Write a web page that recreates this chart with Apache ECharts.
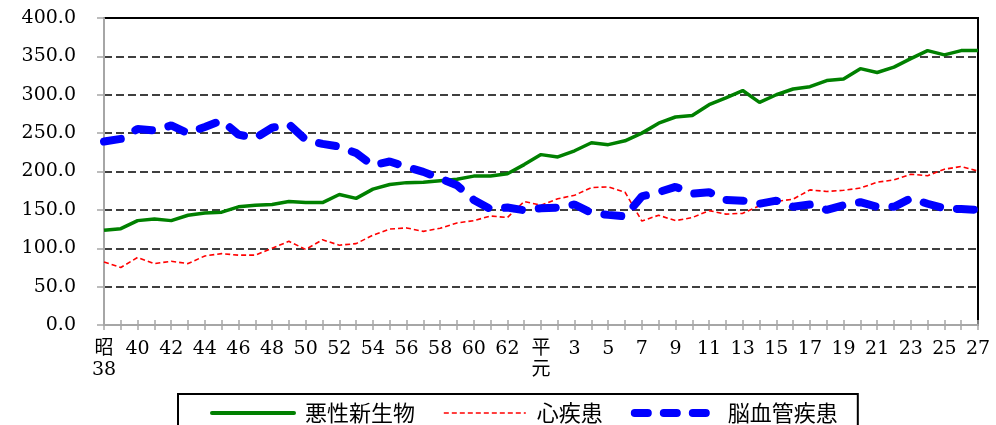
<!DOCTYPE html>
<html>
<head>
<meta charset="utf-8">
<title>死因別死亡率の推移</title>
<script src="https://cdn.jsdelivr.net/npm/echarts@6/dist/echarts.min.js"></script>
<style>
    html, body { margin: 0; padding: 0; background: #fff; }
    #main { width: 996px; height: 425px; }
</style>
</head>
<body>
<div id="main"></div>
<script>
// 年次（昭和38年～平成27年）
var years = ['昭\n38', '39', '40', '41', '42', '43', '44', '45', '46', '47', '48', '49', '50',
    '51', '52', '53', '54', '55', '56', '57', '58', '59', '60', '61', '62', '63',
    '平\n元', '2', '3', '4', '5', '6', '7', '8', '9', '10', '11', '12', '13', '14', '15',
    '16', '17', '18', '19', '20', '21', '22', '23', '24', '25', '26', '27'];

// 悪性新生物
var cancer = [123.5, 125.5, 136, 138, 136, 143, 146, 147, 154, 156, 157, 161, 159.5,
    159.5, 170, 165, 177, 183, 185.5, 186, 188, 190, 194, 194, 197, 209,
    222, 219, 227, 237.5, 235, 240, 250, 263, 271, 273, 287, 296, 305.5, 290, 300,
    307.5, 310.5, 318.5, 320.5, 334, 329, 336, 347, 357.5, 352, 357.5, 357.5];

// 心疾患
var heart = [82, 75, 88, 80, 83, 80, 90, 93, 91, 91, 100, 109, 98.5,
    111, 104, 106, 117, 125, 126.5, 122, 126, 133, 136, 142, 140, 161,
    156, 164.5, 169, 179, 180, 173, 135.5, 143, 136, 140, 149, 144.5, 145.5, 155.5, 161,
    164, 176, 174, 175.5, 178.5, 186, 189, 196.5, 194.5, 203, 206.5, 200.5];

// 脳血管疾患
var stroke = [239, 242.5, 255.5, 253.5, 260, 250, 258, 266.5, 248, 243.5, 257, 261.5, 241.5,
    236, 232.5, 224, 208, 213, 206, 199.5, 191, 182, 163, 151, 153, 149.5,
    152, 153, 157, 146, 143.5, 141.5, 167.5, 173, 180, 171, 173, 163, 162, 158, 162,
    154, 157, 150, 156, 160, 154, 154, 165, 158, 152, 151, 150];

var numFont = "'DejaVu Serif', 'Noto Sans CJK JP', serif";
var jpFont = "'Noto Sans CJK JP', sans-serif";

// 線のスタイル（凡例と共通）
var greenLine = { color: '#008000', width: 3.5 };
var redLine = { color: '#ff0000', width: 1.6, type: [5, 3] };
var blueLine = { color: '#0000ff', width: 8, type: [17, 17], cap: 'round' };

var chart = echarts.init(document.getElementById('main'), null, {renderer: 'canvas'});
var option = {
    animation: false,
    backgroundColor: '#fff',
    grid: {
        left: 104,
        right: 18,
        top: 18,
        bottom: 100,
        show: true,
        borderColor: '#000',
        borderWidth: 2,
        backgroundColor: 'transparent'
    },
    legend: {
        left: 178,
        top: 394,
        itemWidth: 82,
        itemHeight: 20,
        itemGap: 28,
        padding: [8, 20, 40, 32],
        borderColor: '#000',
        borderWidth: 2,
        itemStyle: { opacity: 0 },
        textStyle: {
            fontFamily: jpFont,
            fontSize: 22,
            color: '#000',
            padding: [0, 0, 0, 6]
        },
        data: [
            { name: '悪性新生物', lineStyle: { width: 4, cap: 'round' } },
            { name: '心疾患', lineStyle: { width: 1.6, type: [5, 3] } },
            { name: '脳血管疾患', lineStyle: { width: 8, type: [13, 16], cap: 'round' } }
        ]
    },
    xAxis: [{
        type: 'category',
        data: years,
        boundaryGap: false,
        axisLine: {
            lineStyle: { color: '#a6a6a6', width: 2 }
        },
        axisTick: {
            interval: 0,
            length: 5,
            lineStyle: { color: '#a6a6a6', width: 1.5 }
        },
        axisLabel: {
            interval: 1,
            margin: 14,
            fontFamily: numFont,
            fontSize: 19,
            lineHeight: 21,
            color: '#000'
        },
        splitLine: { show: false }
    }, {
        // 目盛を軸の内側にも出すためのダミー軸
        type: 'category',
        data: years,
        position: 'bottom',
        boundaryGap: false,
        axisLine: { show: false },
        axisTick: {
            interval: 0,
            inside: true,
            length: 5,
            lineStyle: { color: '#a6a6a6', width: 1.5 }
        },
        axisLabel: { show: false },
        splitLine: { show: false }
    }],
    yAxis: {
        type: 'value',
        min: 0,
        max: 400,
        interval: 50,
        axisLine: {
            show: true,
            lineStyle: { color: '#a6a6a6', width: 2 }
        },
        axisTick: {
            show: true,
            length: 7,
            lineStyle: { color: '#a6a6a6', width: 1.5 }
        },
        axisLabel: {
            margin: 28,
            fontFamily: numFont,
            fontSize: 19,
            color: '#000',
            formatter: function (v) {
                return v.toFixed(1);
            }
        },
        splitLine: {
            show: true,
            lineStyle: { color: '#000', width: 1.5, type: [8, 4] }
        }
    },
    series: [{
        name: '悪性新生物',
        type: 'line',
        data: cancer,
        symbol: 'none',
        lineStyle: greenLine,
        itemStyle: { color: '#008000' }
    }, {
        name: '心疾患',
        type: 'line',
        data: heart,
        symbol: 'none',
        lineStyle: redLine,
        itemStyle: { color: '#ff0000' }
    }, {
        name: '脳血管疾患',
        type: 'line',
        data: stroke,
        symbol: 'none',
        lineStyle: blueLine,
        itemStyle: { color: '#0000ff' }
    }]
};
chart.setOption(option);
</script>
</body>
</html>
